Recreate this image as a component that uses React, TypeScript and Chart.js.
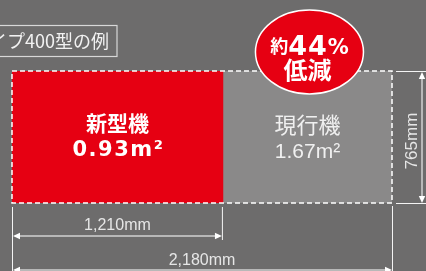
import { useEffect, useRef } from 'react';
import { Chart, registerables } from 'chart.js';
Chart.register(...registerables);

const categories = ['タイプ400型の例'];
const machineNames = ['新型機', '現行機'];
const widthMm = [1210, 2180]; // new machine, current machine
const depthMm = [765];
const areaM2 = ['0.93', '1.67'];
const reductionPct = [44];

const BG = '#6d6c6c';
const RED = '#e60012';
const GRAY = '#8a8989';
const DIM = '#d2d2d2';

function arrow(ctx: CanvasRenderingContext2D, x: number, y: number, dir: 'l' | 'r' | 'u' | 'd') {
  const L = 7, H = 3.2;
  ctx.beginPath();
  ctx.moveTo(x, y);
  if (dir === 'l') { ctx.lineTo(x + L, y - H); ctx.lineTo(x + L, y + H); }
  if (dir === 'r') { ctx.lineTo(x - L, y - H); ctx.lineTo(x - L, y + H); }
  if (dir === 'u') { ctx.lineTo(x - H, y + L); ctx.lineTo(x + H, y + L); }
  if (dir === 'd') { ctx.lineTo(x - H, y - L); ctx.lineTo(x + H, y - L); }
  ctx.closePath();
  ctx.fill();
}

function line(ctx: CanvasRenderingContext2D, ax: number, ay: number, bx: number, by: number) {
  ctx.beginPath();
  ctx.moveTo(ax, ay);
  ctx.lineTo(bx, by);
  ctx.stroke();
}

const bgPlugin = {
  id: 'bg',
  beforeDraw(chart: any) {
    const { ctx, width, height } = chart;
    ctx.save();
    ctx.fillStyle = BG;
    ctx.fillRect(0, 0, width, height);
    ctx.restore();
  },
};

const overlayPlugin = {
  id: 'overlay',
  afterDatasetsDraw(chart: any) {
    const ctx: CanvasRenderingContext2D = chart.ctx;
    const xs = chart.scales.x;
    const { top, bottom } = chart.chartArea;
    const W = chart.width, Hh = chart.height;
    const x0 = xs.getPixelForValue(0);
    const x1 = xs.getPixelForValue(widthMm[0]);
    const x2 = xs.getPixelForValue(widthMm[1]);
    const midY = (top + bottom) / 2;
    ctx.save();

    // dashed outline
    ctx.strokeStyle = '#ffffff';
    ctx.lineWidth = 1.5;
    ctx.setLineDash([5, 3]);
    ctx.strokeRect(x0, top, x2 - x0, bottom - top);
    ctx.setLineDash([]);

    // label box
    ctx.strokeStyle = '#d8d8d8';
    ctx.lineWidth = 1.2;
    ctx.strokeRect(-10, 25.5, 127, 31);
    ctx.fillStyle = '#f2f2f2';
    ctx.font = "18px 'Noto Sans CJK JP'";
    ctx.textBaseline = 'middle';
    ctx.textAlign = 'right';
    ctx.fillText(categories[0], 109, 41);

    // machine labels
    ctx.textAlign = 'center';
    ctx.fillStyle = '#ffffff';
    const cNew = (x0 + x1) / 2;
    const cCur = (x1 + x2) / 2;
    ctx.font = "bold 21px 'Noto Sans CJK JP'";
    ctx.fillText(machineNames[0], cNew, 123);
    (ctx as any).letterSpacing = '1.5px';
    ctx.font = "bold 21px 'DejaVu Sans'";
    ctx.textBaseline = 'alphabetic';
    ctx.fillText(areaM2[0] + 'm²', cNew + 1, 155.5);
    (ctx as any).letterSpacing = '0px';

    ctx.fillStyle = '#f0f0f0';
    ctx.textBaseline = 'middle';
    ctx.font = "22px 'Noto Sans CJK JP'";
    ctx.fillText(machineNames[1], cCur, 125);
    ctx.font = "21px 'Liberation Sans'";
    ctx.textBaseline = 'alphabetic';
    ctx.fillText(areaM2[1] + 'm²', cCur, 158);

    // reduction badge
    const ex = cCur + 2, ey = 52;
    ctx.beginPath();
    ctx.ellipse(ex, ey, 54, 42, 0, 0, Math.PI * 2);
    ctx.fillStyle = RED;
    ctx.fill();
    ctx.strokeStyle = '#ffffff';
    ctx.lineWidth = 1.5;
    ctx.stroke();

    ctx.fillStyle = '#ffffff';
    ctx.textAlign = 'left';
    ctx.textBaseline = 'alphabetic';
    const p1 = '約', p2 = String(reductionPct[0]), p3 = '%';
    const f1 = "bold 18px 'Noto Sans CJK JP'";
    const f2 = "bold 27px 'DejaVu Sans'";
    const f3 = "bold 21px 'DejaVu Sans'";
    ctx.font = f1; const w1 = ctx.measureText(p1).width;
    (ctx as any).letterSpacing = '1px';
    ctx.font = f2; const w2 = ctx.measureText(p2).width;
    (ctx as any).letterSpacing = '0px';
    ctx.font = f3; const w3 = ctx.measureText(p3).width;
    let sx = ex - (w1 + w2 + w3) / 2;
    ctx.font = f1; ctx.fillText(p1, sx, 53); sx += w1;
    (ctx as any).letterSpacing = '1px';
    ctx.font = f2; ctx.fillText(p2, sx, 55); sx += w2;
    (ctx as any).letterSpacing = '0px';
    ctx.font = f3; ctx.fillText(p3, sx, 54);
    ctx.textAlign = 'center';
    ctx.textBaseline = 'middle';
    ctx.font = "bold 24px 'Noto Sans CJK JP'";
    ctx.fillText('低減', ex - 2, 70);

    // extension lines
    ctx.strokeStyle = '#f4f4f4';
    ctx.lineWidth = 1;
    line(ctx, x0 + 0.5, bottom + 4, x0 + 0.5, Hh);
    line(ctx, x1 - 0.5, bottom + 4, x1 - 0.5, 240);
    line(ctx, x2 + 0.5, bottom + 3, x2 + 0.5, Hh);
    line(ctx, x2 + 4, top + 0.5, W, top + 0.5);
    line(ctx, x2 + 4, bottom + 0.5, W, bottom + 0.5);

    // dimension lines
    ctx.strokeStyle = DIM;
    ctx.fillStyle = '#ffffff';
    ctx.lineWidth = 1.5;
    const y1 = 236;
    line(ctx, x0 + 4, y1, x1 - 4, y1);
    arrow(ctx, x0 + 1, y1, 'l');
    arrow(ctx, x1 - 1, y1, 'r');
    const y2 = 270;
    line(ctx, x0 + 4, y2, x2 - 4, y2);
    arrow(ctx, x0 + 1, y2, 'l');
    arrow(ctx, x2, y2, 'r');
    const vx = 422;
    line(ctx, vx, top + 4, vx, bottom - 4);
    arrow(ctx, vx, top + 1, 'u');
    arrow(ctx, vx, bottom, 'd');

    ctx.fillStyle = '#e6e6e6';
    ctx.font = "16px 'Liberation Sans'";
    ctx.textAlign = 'center';
    ctx.textBaseline = 'middle';
    ctx.fillText(widthMm[0].toLocaleString('en-US') + 'mm', (x0 + x1) / 2, 226);
    ctx.fillText(widthMm[1].toLocaleString('en-US') + 'mm', (x0 + x2) / 2, 261);
    ctx.save();
    ctx.translate(412, midY + 4);
    ctx.rotate(-Math.PI / 2);
    ctx.font = "17px 'Liberation Sans'";
    ctx.fillText(depthMm[0] + 'mm', 0, 0);
    ctx.restore();

    ctx.restore();
  },
};

export default function App() {
  const ref = useRef<HTMLCanvasElement>(null);
  useEffect(() => {
    document.body.style.margin = '0';
    if (!ref.current) return;
    const chart = new Chart(ref.current, {
      type: 'bar',
      data: {
        labels: [categories[0]],
        datasets: [
          {
            label: machineNames[0],
            data: [widthMm[0]],
            backgroundColor: RED,
            borderWidth: 0,
            barPercentage: 1,
            categoryPercentage: 1,
            grouped: false,
          } as any,
          {
            label: machineNames[1],
            data: [widthMm[1]],
            backgroundColor: GRAY,
            borderWidth: 0,
            barPercentage: 1,
            categoryPercentage: 1,
            grouped: false,
          } as any,
        ],
      },
      options: {
        indexAxis: 'y',
        responsive: false,
        animation: false,
        layout: { padding: { left: 12, right: 34, top: 71, bottom: 68 } },
        scales: {
          x: { type: 'linear', min: 0, max: widthMm[1], display: false },
          y: { display: false },
        },
        plugins: { legend: { display: false }, tooltip: { enabled: false } },
      },
      plugins: [bgPlugin, overlayPlugin],
    });
    return () => chart.destroy();
  }, []);
  return <canvas ref={ref} width={426} height={271} style={{ display: 'block' }} />;
}
